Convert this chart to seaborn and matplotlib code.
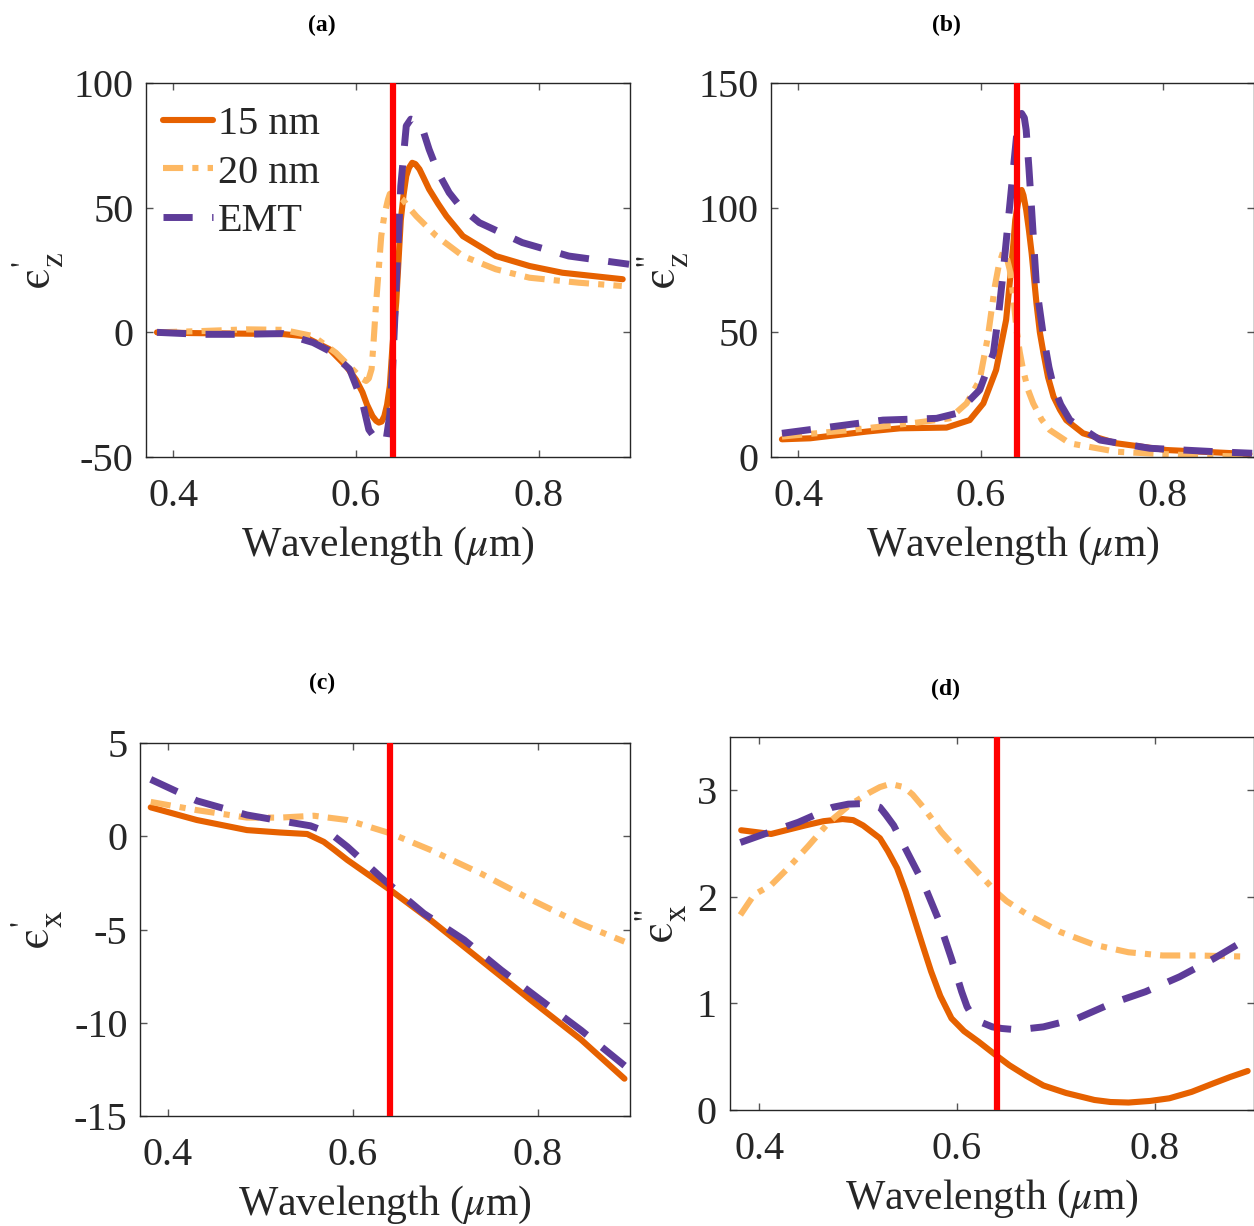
import numpy as np
import pandas as pd
import matplotlib
matplotlib.use("Agg")
import matplotlib.pyplot as plt
import seaborn as sns

# ---------------- data ----------------
series_names = ["15 nm", "20 nm", "EMT"]
xticks = [0.4, 0.6, 0.8]
xtick_labels = ["0.4", "0.6", "0.8"]
laser_wl = 0.64

# panel (a): eps_z'
a_15_x = [0.382, 0.42, 0.47, 0.52, 0.542, 0.571, 0.589, 0.600, 0.607, 0.612, 0.618, 0.622, 0.625, 0.628,
          0.631, 0.634, 0.637, 0.640, 0.644, 0.649, 0.652, 0.655, 0.658, 0.6615, 0.665, 0.6695, 0.674,
          0.68, 0.69, 0.699, 0.717, 0.753, 0.79, 0.826, 0.892]
a_15_y = [0.0, -0.3, -0.5, -0.7, -1.5, -6.8, -13.5, -19, -24, -29, -33.6, -35.5, -36.2, -35.8,
          -33.6, -29, -21.5, -5, 12, 45, 55, 62.7, 66, 68, 67.5, 65.4, 62,
          57.4, 51.5, 46.6, 38.6, 30.6, 26.6, 23.9, 21.3]
a_20_x = [0.382, 0.43, 0.48, 0.52, 0.553, 0.578, 0.6, 0.606, 0.611, 0.614, 0.617, 0.619, 0.622, 0.625,
          0.6276, 0.631, 0.635, 0.637, 0.64, 0.645, 0.651, 0.658, 0.666, 0.688, 0.717, 0.753, 0.79,
          0.844, 0.891]
a_20_y = [0.0, 0.5, 1.2, 1.0, -1.5, -8.2, -16.2, -18.5, -19.5, -18.5, -14.8, -5, 11.9, 26,
          38.6, 47, 53.3, 55.5, 56, 55, 53.3, 50, 46.6, 38.6, 30.6, 25.3, 21.9,
          19.9, 18.6]
a_emt_x = [0.382, 0.43, 0.47, 0.52, 0.553, 0.571, 0.593, 0.607, 0.614, 0.62, 0.626, 0.633, 0.637, 0.64,
           0.644, 0.649, 0.655, 0.66, 0.665, 0.673, 0.68, 0.69, 0.702, 0.715, 0.735, 0.782, 0.833, 0.899]
a_emt_y = [0.0, -0.8, -0.8, -0.5, -4.1, -7.5, -14.8, -28, -39, -42, -43.5, -43, -33, -15,
           18.6, 58.7, 82.8, 85.5, 85, 81.4, 73.4, 64, 56, 50, 44, 36, 30.6, 27.3]

# panel (b): eps_z''
b_15_x = [0.382, 0.413, 0.475, 0.5115, 0.5626, 0.588, 0.603, 0.617, 0.622, 0.628, 0.632, 0.636, 0.638,
          0.641, 0.643, 0.645, 0.647, 0.65, 0.653, 0.656, 0.6613, 0.665, 0.669, 0.674, 0.68, 0.687,
          0.694, 0.7125, 0.749, 0.804, 0.895]
b_15_y = [7.1, 7.5, 10.2, 11.5, 11.8, 14.8, 21.5, 34.9, 44, 55, 70, 85.7, 95,
          101.8, 105.5, 107.1, 105, 99.1, 91, 81.7, 61.6, 50, 41.6, 32, 24.2, 19,
          14.8, 9.5, 5.5, 2.8, 1.2]
b_20_x = [0.382, 0.4566, 0.53, 0.566, 0.5846, 0.599, 0.608, 0.6156, 0.62, 0.6248, 0.628, 0.632, 0.636,
          0.6394, 0.643, 0.6467, 0.652, 0.6577, 0.667, 0.676, 0.6978, 0.749, 0.822, 0.895]
b_20_y = [8.2, 10.8, 13.8, 15.5, 21.5, 30.9, 48.3, 68.4, 77, 82.4, 81, 75, 64,
          51, 42, 34.9, 27, 21.5, 15, 10.8, 5.5, 2.1, 0.8, 0.1]
b_emt_x = [0.382, 0.4384, 0.493, 0.5517, 0.5737, 0.599, 0.614, 0.62, 0.625, 0.634, 0.6394, 0.642, 0.645,
           0.648, 0.65, 0.653, 0.656, 0.6613, 0.669, 0.675, 0.68, 0.688, 0.698, 0.731, 0.7856, 0.8587, 0.898]
b_emt_y = [9.5, 12.2, 14.8, 15.5, 17.5, 26.9, 41.6, 58, 75, 108.4, 128.5, 135, 137.8,
           136, 131.2, 116, 99.1, 68.4, 48.3, 36, 28.2, 21, 14.8, 6.8, 3.5, 2.1, 1.5]

# panel (c): eps_x'
c_15_x = [0.3816, 0.4315, 0.4857, 0.5218, 0.5508, 0.5688, 0.58, 0.5942, 0.6412, 0.6845, 0.7388, 0.793,
          0.847, 0.894]
c_15_y = [1.55, 0.87, 0.33, 0.2, 0.12, -0.3, -0.72, -1.27, -2.9, -4.5, -6.65, -8.8, -10.9, -13.0]
c_20_x = [0.3816, 0.4315, 0.4857, 0.5218, 0.558, 0.5942, 0.6412, 0.6845, 0.7388, 0.793, 0.847, 0.894]
c_20_y = [1.84, 1.4, 1.0, 1.0, 1.1, 0.87, 0.15, -0.74, -2.0, -3.4, -4.7, -5.65]
c_emt_x = [0.3816, 0.4315, 0.4857, 0.5218, 0.5544, 0.576, 0.5942, 0.634, 0.677, 0.7207, 0.7605, 0.8039,
           0.847, 0.8979]
c_emt_y = [3.05, 1.9, 1.14, 0.83, 0.56, 0.15, -0.56, -2.35, -4.14, -5.56, -7.17, -8.8, -10.4, -12.45]

# panel (d): eps_x''
d_15_x = [0.3818, 0.412, 0.4464, 0.465, 0.4843, 0.495, 0.505, 0.522, 0.53, 0.5393, 0.548, 0.5565, 0.565,
          0.5737, 0.583, 0.5943, 0.607, 0.6218, 0.637, 0.6528, 0.67, 0.6872, 0.71, 0.7388, 0.755, 0.7732,
          0.795, 0.8145, 0.837, 0.859, 0.876, 0.8936]
d_15_y = [2.625, 2.59, 2.67, 2.71, 2.73, 2.72, 2.67, 2.55, 2.43, 2.27, 2.05, 1.80, 1.55,
          1.30, 1.07, 0.86, 0.74, 0.64, 0.53, 0.42, 0.32, 0.23, 0.16, 0.094, 0.075, 0.07,
          0.085, 0.11, 0.17, 0.25, 0.31, 0.366]
d_20_x = [0.381, 0.3948, 0.412, 0.4292, 0.4499, 0.4705, 0.4911, 0.5118, 0.522, 0.5324, 0.5462, 0.555,
          0.5668, 0.584, 0.6081, 0.62, 0.639, 0.65, 0.67, 0.7044, 0.7388, 0.7732, 0.8076, 0.842, 0.89]
d_20_y = [1.83, 2.02, 2.11, 2.27, 2.48, 2.70, 2.86, 2.98, 3.03, 3.06, 3.03, 2.96,
          2.83, 2.61, 2.36, 2.24, 2.05, 1.96, 1.84, 1.67, 1.55, 1.48, 1.45, 1.45, 1.44]
d_emt_x = [0.381, 0.4052, 0.4396, 0.474, 0.49, 0.505, 0.515, 0.522, 0.528, 0.5359, 0.5496, 0.5668,
           0.5806, 0.5943, 0.6046, 0.61, 0.615, 0.625, 0.6356, 0.645, 0.6562, 0.668, 0.6872, 0.7216,
           0.756, 0.7904, 0.8248, 0.8592, 0.8884]
d_emt_y = [2.51, 2.59, 2.70, 2.84, 2.87, 2.875, 2.86, 2.84, 2.77, 2.67, 2.42, 2.11,
           1.80, 1.42, 1.11, 0.97, 0.89, 0.82, 0.78, 0.765, 0.756, 0.76, 0.78, 0.86,
           1.0, 1.11, 1.25, 1.42, 1.58]

panel_titles = ["(a)", "(b)", "(c)", "(d)"]
EPS = "\u03f5"
ylabels = ["$\\mathrm{" + EPS + "}_{\\mathrm{z}}^{\\text{'}}$",
           "$\\mathrm{" + EPS + "}_{\\mathrm{z}}^{\\text{''}}$",
           "$\\mathrm{" + EPS + "}_{\\mathrm{x}}^{\\text{'}}$",
           "$\\mathrm{" + EPS + "}_{\\mathrm{x}}^{\\text{''}}$"]
yticks_list = [[-50, 0, 50, 100], [0, 50, 100, 150], [-15, -10, -5, 0, 5], [0, 1, 2, 3]]
ylims = [(-50, 100), (0, 150), (-15, 5), (0, 3.5)]

panel_data = [
    [(a_15_x, a_15_y), (a_20_x, a_20_y), (a_emt_x, a_emt_y)],
    [(b_15_x, b_15_y), (b_20_x, b_20_y), (b_emt_x, b_emt_y)],
    [(c_15_x, c_15_y), (c_20_x, c_20_y), (c_emt_x, c_emt_y)],
    [(d_15_x, d_15_y), (d_20_x, d_20_y), (d_emt_x, d_emt_y)],
]

# ---------------- style ----------------
sns.set_style("ticks")
plt.rcParams['font.family'] = ['Liberation Serif', 'DejaVu Serif']
plt.rcParams['mathtext.fontset'] = 'stix'
plt.rcParams['axes.unicode_minus'] = False

colors = ["#E66100", "#FDB863", "#5E3C99"]
widths = [4.4, 4.4, 5.0]
dash_patterns = [None, (3.3, 1.5, 1.0, 1.5), (4.2, 2.8)]

W, H = 1254, 1226
fig = plt.figure(figsize=(W / 100, H / 100), dpi=100)

# axes boxes in pixels: left, right, top, bottom
boxes = [(146, 630, 83, 457), (771, 1254, 83, 457), (140, 630, 743, 1116), (729.5, 1254, 737, 1110)]
title_pos = [(322, 25), (946, 25), (322, 683), (946, 689)]
ylabel_x = [-0.223, -0.2236, -0.210, -0.1306]

tick_fs = 29
label_fs = 30
ylabel_fs = 34

for i, (l, r, t, b) in enumerate(boxes):
    ax = fig.add_axes([l / W, 1 - b / H, (r - l) / W, (b - t) / H])
    for j, (xs, ys) in enumerate(panel_data[i]):
        sns.lineplot(x=xs, y=ys, ax=ax, color=colors[j], linewidth=widths[j],
                     estimator=None, sort=False, label=series_names[j], legend=False)
        line = ax.lines[-1]
        line.set_solid_joinstyle('round')
        line.set_dash_joinstyle('round')
        if dash_patterns[j] is not None:
            line.set_dashes(dash_patterns[j])
            line.set_dash_capstyle('butt')
    ax.axvline(laser_wl, color="#FF0000", linewidth=4.5, zorder=5)

    ax.set_xlim(0.37, 0.9)
    ax.set_ylim(*ylims[i])
    ax.set_xticks(xticks)
    ax.set_xticklabels(xtick_labels)
    ax.set_yticks(yticks_list[i])
    ax.set_yticklabels([str(v) for v in yticks_list[i]])
    ax.tick_params(direction='in', top=True, right=True, length=5, width=1.0,
                   colors='#555555', labelcolor='#262626', labelsize=tick_fs)
    ax.tick_params(axis='x', pad=15)
    ax.tick_params(axis='y', pad=9)
    for s in ax.spines.values():
        s.set_linewidth(1.0)
        s.set_color('#262626')
        s.set_visible(True)

    ax.set_xlabel(r"Wavelength ($\mu$m)", fontsize=label_fs, color='#262626', labelpad=7)
    ax.set_ylabel(ylabels[i], fontsize=ylabel_fs, color='#262626', va='center')
    ax.yaxis.set_label_coords(ylabel_x[i], 0.5)

    fig.text(title_pos[i][0] / W, 1 - title_pos[i][1] / H, panel_titles[i],
             fontsize=17, fontweight='bold', ha='center', va='center', color='black')

    if i == 0:
        handles = ax.lines[:3]
        ax.legend(handles, series_names, loc='upper left', bbox_to_anchor=(0.035, 0.94),
                  frameon=False, fontsize=tick_fs,
                  handlelength=1.24, handletextpad=0.13, labelspacing=0.29,
                  borderaxespad=0.0, borderpad=0.0)

fig.savefig("out.png", dpi=100)
